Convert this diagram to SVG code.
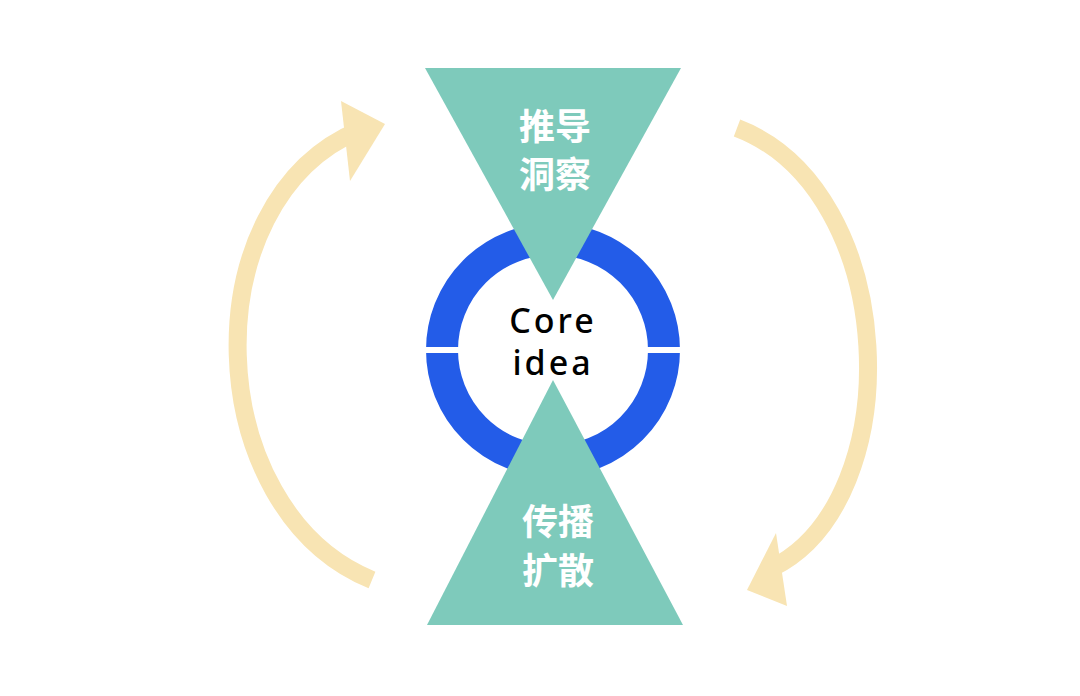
<svg xmlns="http://www.w3.org/2000/svg" width="1080" height="696" viewBox="0 0 1080 696">
<style>
.arc{fill:none;stroke:#f8e4b3;stroke-width:18}
.head{fill:#f8e4b3}
.tri{fill:#7ecabb}
.cn{font-family:"Noto Sans CJK SC",sans-serif;font-weight:bold;font-size:36px;fill:#fff;text-anchor:middle}
.en{font-family:"Noto Sans","DejaVu Sans",sans-serif;font-size:34px;fill:#000;text-anchor:middle;letter-spacing:3px;font-weight:500}
</style>
<rect width="1080" height="696" fill="#fff"/>
<g id="connectors">
<path class="arc" d="M372,580 C200,510 190,200 360,130"/>
<polygon class="head" points="385,124 341,101 350,181"/>
<path class="arc" d="M737,128 C900,190 910,500 772,568"/>
<polygon class="head" points="747,590 776,533 787,606"/>
</g>
<g id="ring">
<circle cx="553" cy="350" r="111" fill="none" stroke="#235ce8" stroke-width="32"/>
<rect x="424" y="347" width="36" height="6" fill="#fff"/>
<rect x="646" y="347" width="36" height="6" fill="#fff"/>
</g>
<g id="top">
<polygon class="tri" points="425,68 681,68 553,300"/>
<text class="cn" x="555" y="140">推导</text>
<text class="cn" x="555" y="188">洞察</text>
</g>
<g id="bottom">
<polygon class="tri" points="553,380 427,625 683,625"/>
<text class="cn" x="558" y="535">传播</text>
<text class="cn" x="558" y="584">扩散</text>
</g>
<g id="core">
<text class="en" x="553" y="333">Core</text>
<text class="en" x="553" y="375">idea</text>
</g>
</svg>
